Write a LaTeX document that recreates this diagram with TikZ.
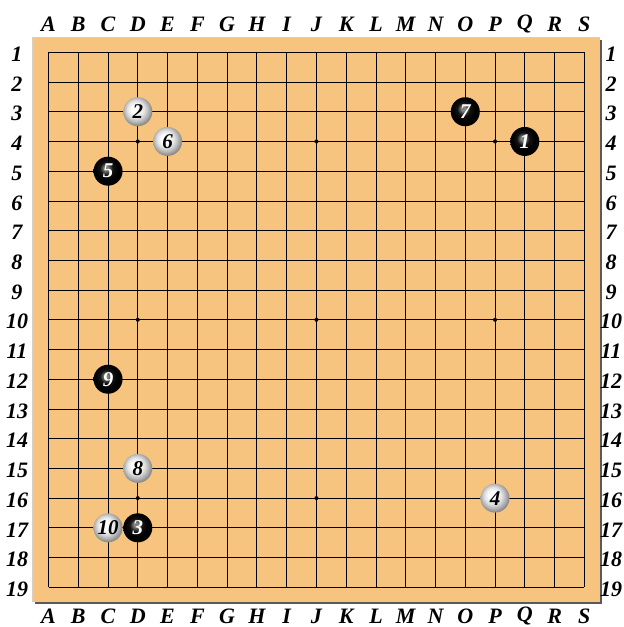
\documentclass[tikz,border=0pt]{standalone}
\usepackage{fontspec}
\setmainfont{Liberation Serif}
\usetikzlibrary{calc}
\definecolor{wood}{RGB}{246,196,126}
\definecolor{woodedge}{RGB}{214,206,196}
\definecolor{shadowc}{RGB}{90,90,90}
\pgfdeclareradialshading{wball}{\pgfpoint{-5bp}{6bp}}{color(0bp)=(white); color(7bp)=(white); color(15bp)=(black!12); color(22bp)=(black!32); color(26bp)=(black!45); color(50bp)=(black!45)}
\pgfdeclareradialshading{bball}{\pgfpoint{-4bp}{6bp}}{color(0bp)=(black!55); color(3bp)=(black!45); color(11bp)=(black!93); color(20bp)=(black); color(50bp)=(black)}
\tikzset{
  x=1pt,y=-1pt,
  gridline/.style={line width=0.8pt,black},
  lbl/.style={font=\bfseries\itshape\fontsize{22}{22}\selectfont,inner sep=0pt},
  bstone/.style={circle,minimum size=29pt,inner sep=0pt,shading=bball,text=white,font=\bfseries\itshape\fontsize{21}{21}\selectfont},
  wstone/.style={circle,minimum size=29pt,inner sep=0pt,shading=wball,text=black,font=\bfseries\itshape\fontsize{21}{21}\selectfont},
  star/.style={circle,fill=black,inner sep=0pt,minimum size=4pt}
}
\newcommand{\gx}[1]{48.5+29.77*#1}
\newcommand{\gy}[1]{52.3+29.72*#1}
\begin{document}
\begin{tikzpicture}
\useasboundingbox (0,0) rectangle (624,627);
\fill[white] (0,0) rectangle (624,627);
% shadow
\fill[shadowc] (35,40) rectangle (601.5,604);
\fill[wood] (32.5,37) rectangle (599.5,601.5);
\draw[woodedge,line width=1.5pt] (33,601.5) -- (33,37.5) -- (599.5,37.5);
% grid
\foreach \i in {0,...,18}{
  \draw[gridline] ({\gx{\i}},{\gy{0}}) -- ({\gx{\i}},{\gy{18}});
  \draw[gridline] ({\gx{0}},{\gy{\i}}) -- ({\gx{18}},{\gy{\i}});
}
% labels
\foreach \L [count=\c from 0] in {A,B,C,D,E,F,G,H,I,J,K,L,M,N,O,P,Q,R,S}{
  \node[lbl] (top\L) at ({\gx{\c}},24) {\L};
  \node[lbl] (bot\L) at ({\gx{\c}},616) {\L};
}
\foreach \n [count=\r from 0] in {1,...,19}{
  \node[lbl] (left\n) at (17,{\gy{\r}+2}) {\n};
  \node[lbl] (right\n) at (611,{\gy{\r}+2}) {\n};
}
% star points
\foreach \i/\j [count=\k] in {3/3,9/3,15/3,3/9,9/9,15/9,3/15,9/15,15/15}{
  \node[star] (hoshi\k) at ({\gx{\i}},{\gy{\j}}) {};
}
% stones
\node[bstone] (s1) at ({\gx{16}},{\gy{3}}) {1};
\node[wstone] (s2) at ({\gx{3}},{\gy{2}}) {2};
\node[bstone] (s3) at ({\gx{3}},{\gy{16}}) {3};
\node[wstone] (s4) at ({\gx{15}},{\gy{15}}) {4};
\node[bstone] (s5) at ({\gx{2}},{\gy{4}}) {5};
\node[wstone] (s6) at ({\gx{4}},{\gy{3}}) {6};
\node[bstone] (s7) at ({\gx{14}},{\gy{2}}) {7};
\node[wstone] (s8) at ({\gx{3}},{\gy{14}}) {8};
\node[bstone] (s9) at ({\gx{2}},{\gy{11}}) {9};
\node[wstone] (s10) at ({\gx{2}},{\gy{16}}) {10};
\end{tikzpicture}
\end{document}
